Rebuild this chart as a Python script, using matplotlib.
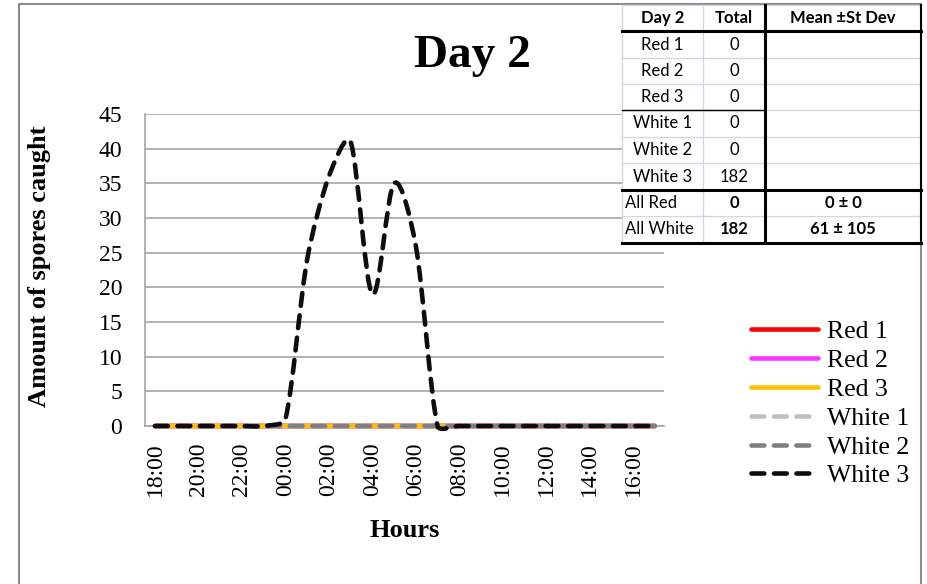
import matplotlib
matplotlib.use('Agg')
import matplotlib.pyplot as plt
from matplotlib.path import Path
from matplotlib.patches import PathPatch, Rectangle
from matplotlib.lines import Line2D

# hourly samples, 18:00 on day 2 through 17:00 next day
hours = ['18:00', '19:00', '20:00', '21:00', '22:00', '23:00', '00:00', '01:00',
         '02:00', '03:00', '04:00', '05:00', '06:00', '07:00', '08:00', '09:00',
         '10:00', '11:00', '12:00', '13:00', '14:00', '15:00', '16:00', '17:00']
red1 = [0, 0, 0, 0, 0, 0, 0, 0, 0, 0, 0, 0, 0, 0, 0, 0, 0, 0, 0, 0, 0, 0, 0, 0]
red2 = [0, 0, 0, 0, 0, 0, 0, 0, 0, 0, 0, 0, 0, 0, 0, 0, 0, 0, 0, 0, 0, 0, 0, 0]
red3 = [0, 0, 0, 0, 0, 0, 0, 0, 0, 0, 0, 0, 0, 0, 0, 0, 0, 0, 0, 0, 0, 0, 0, 0]
white1 = [0, 0, 0, 0, 0, 0, 0, 0, 0, 0, 0, 0, 0, 0, 0, 0, 0, 0, 0, 0, 0, 0, 0, 0]
white2 = [0, 0, 0, 0, 0, 0, 0, 0, 0, 0, 0, 0, 0, 0, 0, 0, 0, 0, 0, 0, 0, 0, 0, 0]
white3 = [0, 0, 0, 0, 0, 0, 1, 24, 36, 41, 19, 35, 26, 0, 0, 0, 0, 0, 0, 0, 0, 0, 0, 0]

series_names = ['Red 1', 'Red 2', 'Red 3', 'White 1', 'White 2', 'White 3']
series_vals = [red1, red2, red3, white1, white2, white3]
series_colors = ['#FF0000', '#FF33FF', '#FFC000', '#BFBFBF', '#808080', '#0D0D0D']

# summary table
tbl_header = ['Day 2', 'Total', 'Mean \u00b1St Dev']
tbl_names = ['Red 1', 'Red 2', 'Red 3', 'White 1', 'White 2', 'White 3']
tbl_totals = ['0', '0', '0', '0', '0', '182']
grp_names = ['All Red', 'All White']
grp_totals = ['0', '182']
grp_stats = ['0 \u00b1 0', '61 \u00b1 105']

W, H = 928, 584
serif = 'Liberation Serif'
fig = plt.figure(figsize=(W / 100, H / 100), dpi=100)

# approx pixels per x step / per y unit, used only to shape the smoothing
SX, SY = 21.8, 6.93


def smooth(xs, ys, f=0.3):
    # excel-like smoothed line: catmull-rom handles, clamped to a share of
    # the segment length so flat runs do not overshoot
    n = len(xs)
    P = [(xs[i] * SX, ys[i] * SY) for i in range(n)]
    hnd = []
    for i in range(n):
        a, b = P[max(i - 1, 0)], P[min(i + 1, n - 1)]
        hnd.append(((b[0] - a[0]) / 6, (b[1] - a[1]) / 6))

    def clamp(h, L):
        m = (h[0] ** 2 + h[1] ** 2) ** 0.5
        if m > L and m > 0:
            return (h[0] * L / m, h[1] * L / m)
        return h

    verts = [(xs[0], ys[0])]
    codes = [Path.MOVETO]
    for i in range(n - 1):
        p0, p1 = P[i], P[i + 1]
        L = ((p1[0] - p0[0]) ** 2 + (p1[1] - p0[1]) ** 2) ** 0.5 * f
        h0, h1 = clamp(hnd[i], L), clamp(hnd[i + 1], L)
        c1 = (p0[0] + h0[0], p0[1] + h0[1])
        c2 = (p1[0] - h1[0], p1[1] - h1[1])
        verts += [(c1[0] / SX, c1[1] / SY), (c2[0] / SX, c2[1] / SY), (xs[i + 1], ys[i + 1])]
        codes += [Path.CURVE4] * 3
    return Path(verts, codes)


ax = fig.add_axes([145 / W, (H - 426) / H, (664 - 145) / W, (426 - 114) / H])
x = list(range(len(hours)))
lw = 3.3
dash = (0, (2.8, 2.1))
handles = []
for name, vals, col in zip(series_names, series_vals, series_colors):
    ls = '-' if name.startswith('Red') else dash
    p = PathPatch(smooth(x, vals), fill=False, edgecolor=col, lw=lw, linestyle=ls,
                  capstyle='round', joinstyle='round', clip_on=False, zorder=3)
    ax.add_patch(p)
    handles.append(Line2D([], [], color=col, lw=lw, linestyle=ls,
                          dash_capstyle='round', solid_capstyle='round'))

ax.set_xlim(-0.46, 23.42)
ax.set_ylim(0, 45)
ax.set_yticks(range(0, 46, 5))
ax.set_xticks(x[::2])
ax.set_xticklabels(hours[::2], rotation=90)
ax.grid(axis='y', color='#A6A6A6', lw=1.2)
ax.set_axisbelow(True)
for s in ['top', 'right']:
    ax.spines[s].set_visible(False)
for s in ['left', 'bottom']:
    ax.spines[s].set_color('#A6A6A6')
    ax.spines[s].set_linewidth(1.2)
ax.tick_params(axis='y', length=0, pad=16.5, labelsize=17)
ax.tick_params(axis='x', length=0, pad=12, labelsize=17)
for t in ax.get_xticklabels() + ax.get_yticklabels():
    t.set_fontfamily(serif)

fig.text(472 / W, 1 - 67 / H, 'Day 2', family=serif, weight='bold', fontsize=34,
         ha='center', va='baseline')
fig.text(405 / W, 1 - 537 / H, 'Hours', family=serif, weight='bold', fontsize=19,
         ha='center', va='baseline')
fig.text(40 / W, 1 - 266 / H, 'Amount of spores caught', family=serif, weight='bold',
         fontsize=19, rotation=90, ha='center', va='center')

fig.legend(handles, series_names, loc='upper left', bbox_to_anchor=(751 / W, 1 - 320 / H),
           frameon=False, borderpad=0, borderaxespad=0, handlelength=2.6,
           handletextpad=0.36, labelspacing=0.23, prop={'family': serif, 'size': 18.5})

# overlay in pixel coordinates for the frame and the pasted table
ov = fig.add_axes([0, 0, 1, 1], zorder=5)
ov.set_xlim(0, W)
ov.set_ylim(H, 0)
ov.axis('off')
ov.plot([19, 19, 921, 921], [H + 5, 4, 4, H + 5], color='#8C8C8C', lw=1.5)

tx0, tx1, tx2, tx3 = 622, 703, 765, 921
rows = [5, 31, 58, 84, 110, 137, 163, 190, 216, 243]
ov.add_patch(Rectangle((tx0, rows[0]), tx3 - tx0, rows[-1] - rows[0], facecolor='white',
                       edgecolor='none'))
light = '#D0D7E5'
for yy in rows[1:-1]:
    ov.plot([tx0, tx3], [yy, yy], color=light, lw=1)
ov.plot([tx0, tx0], [rows[0], rows[-1]], color=light, lw=1)
ov.plot([tx1, tx1], [rows[0], rows[-1]], color=light, lw=1)
ov.plot([tx0, tx3], [rows[0], rows[0]], color=light, lw=1)
ov.plot([tx0, tx3], [rows[1], rows[1]], color='black', lw=2.2)
ov.plot([tx0, tx2], [rows[4], rows[4]], color='black', lw=1)
ov.plot([tx0, tx3], [rows[7], rows[7]], color='black', lw=2.2)
ov.plot([tx0, tx3], [rows[9], rows[9]], color='black', lw=2.2)
ov.plot([tx2, tx2], [rows[0], rows[-1]], color='black', lw=2.2)
ov.plot([tx3, tx3], [rows[0], rows[-1]], color='black', lw=1.5)

tfont = {'family': 'Lato', 'fontsize': 12, 'va': 'center'}
cx1, cx2, cx3 = (tx0 + tx1) / 2, (tx1 + tx2) / 2, (tx2 + tx3) / 2
mid = [(rows[i] + rows[i + 1]) / 2 for i in range(len(rows) - 1)]
for cx, txt in zip([cx1, cx2, cx3], tbl_header):
    ov.text(cx, mid[0], txt, ha='center', weight='bold', **tfont)
for i, (nm, tot) in enumerate(zip(tbl_names, tbl_totals)):
    ov.text(cx1, mid[i + 1], nm, ha='center', **tfont)
    ov.text(cx2, mid[i + 1], tot, ha='center', **tfont)
for i, (nm, tot, st) in enumerate(zip(grp_names, grp_totals, grp_stats)):
    ov.text(tx0 + 3, mid[i + 7], nm, ha='left', **tfont)
    ov.text(cx2, mid[i + 7], tot, ha='center', weight='bold', **tfont)
    ov.text(cx3, mid[i + 7], st, ha='center', weight='bold', **tfont)

fig.savefig('out.png', dpi=100)
